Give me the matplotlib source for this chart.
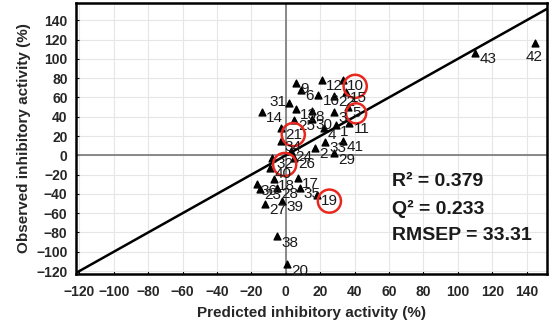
import matplotlib
matplotlib.use('Agg')
import matplotlib.pyplot as plt
import numpy as np

plt.rcParams['font.family'] = ['Liberation Sans', 'DejaVu Sans']

# compound number, predicted (%), observed (%)
compound_ids = ['42', '43', '10', '12', '9', '6', '16', '22', '15', '5',
                '3', '11', '1', '4', '41', '33', '2', '29', '31', '14',
                '13', '8', '25', '30', '21', '34', '24', '32', '26', '40',
                '17', '36', '18', '35', '19', '23', '28', '27', '39', '38', '20']
predicted = [145, 110, 33, 21, 6, 9, 19, 28, 35, 36,
             28, 37, 29, 22, 33, 23, 17, 28, 2, -14,
             6, 15, 5, 15, -3, -3, 3, -8, 5, -9,
             7, -17, -7, 8, 18, -15, -5, -12, -2, -5, 1]
observed = [116, 106, 78, 78, 75, 68, 63, 62, 66, 50,
            45, 34, 31, 28, 15, 14, 8, 2, 54, 45,
            48, 46, 37, 38, 28, 15, 5, -3, -3, -13,
            -23, -30, -25, -34, -41, -35, -34, -50, -47, -84, -113]
highlighted = ['10', '5', '21', '32', '19']
left_labels = ['31']
below_labels = ['42']

stats = ['R\u00b2 = 0.379', 'Q\u00b2 = 0.233', 'RMSEP = 33.31']

fig = plt.figure(figsize=(5.5, 3.25), dpi=100)
ax = fig.add_axes([0.138, 0.157, 0.857, 0.834])

ax.set_xlim(-122, 152)
ax.set_ylim(-123, 158)
ticks = np.arange(-120, 141, 20)
ax.set_xticks(ticks)
ax.set_yticks(ticks)
ax.grid(True, color='#e6e6e6', linewidth=0.8)
ax.set_axisbelow(True)

# zero axes and the y = x reference line
ax.axhline(0, color='#808080', linewidth=1.3, zorder=1)
ax.axvline(0, color='#808080', linewidth=1.3, zorder=1)
ax.plot([-200, 200], [-200, 200], color='black', linewidth=1.8, zorder=2)

ax.scatter(predicted, observed, marker='^', s=24, color='black', zorder=3)

for cid, xp, yo in zip(compound_ids, predicted, observed):
    if cid in left_labels:
        offset, ha = (-2, 1), 'right'
    elif cid in below_labels:
        offset, ha = (-1, -10), 'center'
    else:
        offset, ha = (3, -4.5), 'left'
    bbox = None
    if cid in highlighted:
        bbox = dict(boxstyle='circle,pad=0.2', fc='none', ec='#e8281e', lw=1.8)
    ax.annotate(cid, (xp, yo), xytext=offset, textcoords='offset points',
                ha=ha, va='center', fontsize=11,
                color='#1a1a1a', bbox=bbox, zorder=4)

for lines, yy in zip(stats, [0.44, 0.357, 0.274]):
    fig.text(0.713, yy, lines, fontsize=14, fontweight='bold', color='#1a1a1a',
             va='center', ha='left')

for side in ax.spines.values():
    side.set_linewidth(1.8)
ax.tick_params(direction='in', length=2, width=0.8, labelsize=10, pad=6)
ax.tick_params(axis='x', pad=8)
for lab in ax.get_xticklabels() + ax.get_yticklabels():
    lab.set_fontweight('bold')
    lab.set_color('#262626')

ax.set_xlabel('Predicted inhibitory activity (%)', fontsize=11, fontweight='bold',
              labelpad=5, color='#262626')
ax.set_ylabel('Observed inhibitory activity (%)', fontsize=11, fontweight='bold',
              labelpad=4, color='#262626')

fig.savefig('out.png', dpi=100, facecolor='white')
